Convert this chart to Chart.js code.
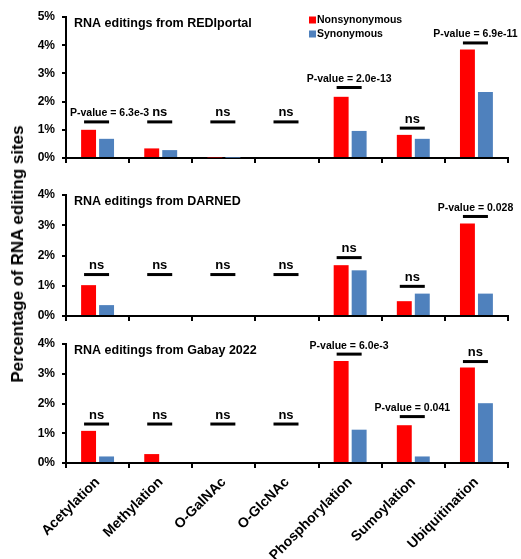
<!DOCTYPE html>
<html>
<head>
<meta charset="utf-8">
<script src="https://cdn.jsdelivr.net/npm/chart.js@4.4.1/dist/chart.umd.min.js"></script>
<style>
  html, body { margin: 0; padding: 0; background: #fff; }
  #wrap { position: relative; width: 521px; height: 559px; overflow: hidden; }
  #wrap canvas { position: absolute; left: 0; }
  #ytitle {
    position: absolute; left: 18px; top: 254px;
    transform: translate(-50%, -50%) rotate(-90deg);
    font: bold 17px "Liberation Sans", Arial, sans-serif;
    white-space: nowrap; color: #000;
  }
</style>
</head>
<body>
<div id="wrap">
  <canvas id="c1" width="521" height="175" style="top:0px"></canvas>
  <canvas id="c2" width="521" height="165" style="top:170px"></canvas>
  <canvas id="c3" width="521" height="239" style="top:320px"></canvas>
  <div id="ytitle">Percentage of RNA editing sites</div>
</div>
<script>
// Modification types along the shared x axis
const categories = ['Acetylation', 'Methylation', 'O-GalNAc', 'O-GlcNAc', 'Phosphorylation', 'Sumoylation', 'Ubiquitination'];
const seriesNames = ['Nonsynonymous', 'Synonymous'];

// REDIportal (percent of sites)
const rediNonsyn = [1.00, 0.34, 0.02, 0.00, 2.17, 0.82, 3.85];
const rediSyn    = [0.68, 0.28, 0.01, 0.00, 0.96, 0.68, 2.34];
const rediSigLevel = [1.28, 1.28, 1.28, 1.28, 2.50, 1.06, 4.08];
const rediSigText  = ['P-value = 6.3e-3', 'ns', 'ns', 'ns', 'P-value = 2.0e-13', 'ns', 'P-value = 6.9e-11'];

// DARNED
const darnedNonsyn = [1.02, 0.00, 0.00, 0.00, 1.68, 0.49, 3.06];
const darnedSyn    = [0.36, 0.00, 0.00, 0.00, 1.51, 0.74, 0.74];
const darnedSigLevel = [1.37, 1.37, 1.37, 1.37, 1.93, 0.98, 3.29];
const darnedSigText  = ['ns', 'ns', 'ns', 'ns', 'ns', 'ns', 'P-value = 0.028'];

// Gabay 2022
const gabayNonsyn = [1.08, 0.30, 0.00, 0.00, 3.43, 1.27, 3.21];
const gabaySyn    = [0.22, 0.00, 0.00, 0.00, 1.12, 0.22, 2.01];
const gabaySigLevel = [1.31, 1.31, 1.31, 1.31, 3.66, 1.56, 3.41];
const gabaySigText  = ['ns', 'ns', 'ns', 'ns', 'P-value = 6.0e-3', 'P-value = 0.041', 'ns'];

const FONT = '"Liberation Sans", Arial, sans-serif';
const RED = '#FF0000';
const BLUE = '#4F81BD';

// Draws panel title, significance bars with their labels, and optional legend
const annotatePlugin = {
  id: 'annotate',
  afterDatasetsDraw(chart, args, opts) {
    const ctx = chart.ctx;
    const xs = chart.scales.x, ys = chart.scales.y;
    const area = chart.chartArea;
    ctx.save();
    ctx.fillStyle = '#000';

    // title
    ctx.font = 'bold 12.5px ' + FONT;
    ctx.textAlign = 'left';
    ctx.textBaseline = 'middle';
    ctx.fillText(opts.title, area.left + 8, area.top + 7);

    // significance bars
    opts.levels.forEach((lv, i) => {
      const cx = xs.getPixelForValue(i) - 1;
      const py = ys.getPixelForValue(lv);
      ctx.fillStyle = '#000';
      ctx.fillRect(cx - 12.5, py - 1.5, 25, 3);
      const t = opts.texts[i];
      const isNs = t === 'ns';
      ctx.font = (isNs ? 'bold 13px ' : 'bold 10.5px ') + FONT;
      const w = ctx.measureText(t).width;
      let tx = cx - w / 2;
      if (tx < area.left + 4) tx = area.left + 4;
      ctx.textAlign = 'left';
      ctx.textBaseline = 'alphabetic';
      ctx.fillText(t, tx, py - 5.5);
    });

    // legend
    if (opts.legend) {
      const colors = [RED, BLUE];
      const rows = [20, 34];
      ctx.font = 'bold 10.5px ' + FONT;
      ctx.textBaseline = 'middle';
      seriesNames.forEach((name, k) => {
        ctx.fillStyle = colors[k];
        ctx.fillRect(309, rows[k] - 3.5, 7, 7);
        ctx.fillStyle = '#000';
        ctx.fillText(name, 317, rows[k] + 0.5);
      });
    }
    ctx.restore();
  }
};

function makePanel(id, cfg) {
  return new Chart(document.getElementById(id), {
    type: 'bar',
    data: {
      labels: categories,
      datasets: [
        { label: seriesNames[0], data: cfg.nonsyn, backgroundColor: RED },
        { label: seriesNames[1], data: cfg.syn, backgroundColor: BLUE }
      ]
    },
    options: {
      responsive: false,
      animation: false,
      devicePixelRatio: 1,
      categoryPercentage: 0.57,
      barPercentage: 0.83,
      layout: { padding: { top: cfg.top, right: 13, left: 0, bottom: 0 } },
      plugins: {
        legend: { display: false },
        tooltip: { enabled: false },
        annotate: { title: cfg.title, levels: cfg.levels, texts: cfg.texts, legend: !!cfg.legend }
      },
      scales: {
        x: {
          offset: true,
          grid: { offset: true, drawOnChartArea: false, drawTicks: true, tickLength: 5, color: '#000', lineWidth: 2 },
          border: { display: true, color: '#000', width: 2 },
          ticks: {
            display: cfg.showLabels,
            autoSkip: false,
            minRotation: 45,
            maxRotation: 45,
            padding: 6,
            color: '#000',
            font: { family: FONT, size: 14, weight: 'bold' }
          },
          afterFit: s => { s.height = cfg.bottom; }
        },
        y: {
          min: 0,
          max: cfg.yMax,
          grid: { drawOnChartArea: false, drawTicks: true, tickLength: 4, color: '#000', lineWidth: 2 },
          border: { display: true, color: '#000', width: 2 },
          ticks: {
            stepSize: 1,
            padding: 7,
            color: '#000',
            font: { family: FONT, size: 12, weight: 'bold' },
            callback: v => v + '%'
          },
          afterFit: s => { s.width = 66; }
        }
      }
    },
    plugins: [annotatePlugin]
  });
}

makePanel('c1', {
  title: 'RNA editings from REDIportal', nonsyn: rediNonsyn, syn: rediSyn,
  levels: rediSigLevel, texts: rediSigText, yMax: 5, top: 17, bottom: 17, showLabels: false, legend: true
});
makePanel('c2', {
  title: 'RNA editings from DARNED', nonsyn: darnedNonsyn, syn: darnedSyn,
  levels: darnedSigLevel, texts: darnedSigText, yMax: 4, top: 25, bottom: 19, showLabels: false
});
makePanel('c3', {
  title: 'RNA editings from Gabay 2022', nonsyn: gabayNonsyn, syn: gabaySyn,
  levels: gabaySigLevel, texts: gabaySigText, yMax: 4, top: 24, bottom: 96, showLabels: true
});
</script>
</body>
</html>
